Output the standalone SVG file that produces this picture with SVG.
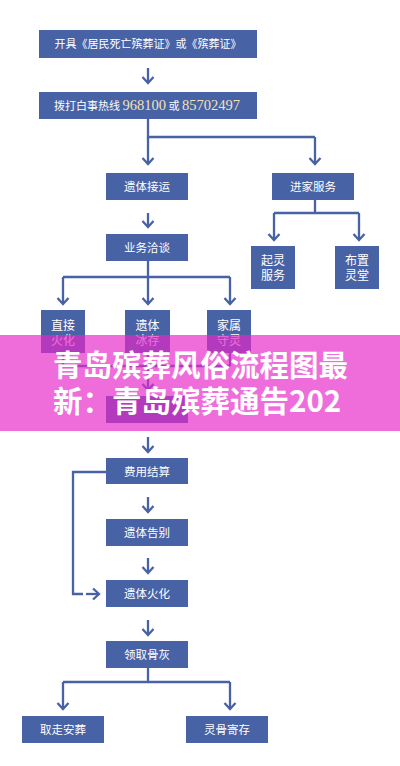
<svg xmlns="http://www.w3.org/2000/svg" width="400" height="766" viewBox="0 0 400 766">
<style>
.box{fill:#4862a6}
.t{font-family:"Noto Sans CJK SC","Noto Sans",sans-serif;font-size:11.5px;fill:#ffffff;text-anchor:middle}
.s{font-size:12px}
.num{font-family:"Liberation Serif",serif;font-size:14.5px;fill:#f2e4b4}
.ln{fill:none;stroke:#4862a6;stroke-width:2.3}
.ar{fill:none;stroke:#4862a6;stroke-width:2.3;marker-end:url(#ch)}
.ov{font-family:"Noto Sans CJK SC","Noto Sans",sans-serif;font-size:29.5px;font-weight:bold;fill:#ffffff}
</style>
<defs>
<marker id="ch" viewBox="-8 -8 10 16" markerWidth="10" markerHeight="16" refX="0" refY="0" orient="auto" markerUnits="userSpaceOnUse">
<path d="M-6,-5.5 L0,0 L-6,5.5" fill="none" stroke="#4862a6" stroke-width="2.3"/>
</marker>
</defs>
<rect width="400" height="766" fill="#ffffff"/>
<g id="connectors">
<path class="ar" d="M148,68 V83"/>
<path class="ln" d="M148,119 V137 H315"/>
<path class="ar" d="M148,137 V164"/>
<path class="ar" d="M315,137 V164"/>
<path class="ar" d="M148,213 V227"/>
<path class="ln" d="M315,200 V213 M274,213 H359"/>
<path class="ar" d="M274,213 V240"/>
<path class="ar" d="M359,213 V240"/>
<path class="ln" d="M148,261 V277 M63,277 H230"/>
<path class="ar" d="M63,277 V304"/>
<path class="ar" d="M148,277 V304"/>
<path class="ar" d="M230,277 V304"/>
<path class="ln" d="M63,353 V366 M148,353 V366 M230,353 V366 M63,366 H230"/>
<path class="ar" d="M148,366 V390"/>
<path class="ar" d="M148,437 V452"/>
<path class="ar" d="M148,497 V512"/>
<path class="ar" d="M148,558 V573"/>
<path class="ar" d="M148,620 V635"/>
<path class="ln" d="M106,472 H73 V594 H83"/>
<path class="ar" d="M86,594 H99"/>
<path class="ln" d="M148,668 V682 M63,682 H230"/>
<path class="ar" d="M63,682 V709"/>
<path class="ar" d="M230,682 V709"/>
</g>
<g id="n1"><rect class="box" x="39" y="30" width="218" height="28"/><text class="t" x="148" y="48.2" style="font-size:11px">开具《居民死亡殡葬证》或《殡葬证》</text></g>
<g id="n2"><rect class="box" x="39" y="92" width="218" height="27"/><text class="t" x="54" y="110" style="font-size:11px;text-anchor:start">拨打白事热线 <tspan class="num">968100</tspan> 或 <tspan class="num">85702497</tspan></text></g>
<g id="n3"><rect class="box" x="106" y="173" width="82" height="27"/><text class="t" x="147" y="191">遗体接运</text></g>
<g id="n4"><rect class="box" x="272" y="173" width="82" height="27"/><text class="t" x="313" y="191">进家服务</text></g>
<g id="n5"><rect class="box" x="106" y="234" width="82" height="27"/><text class="t" x="147" y="252">业务洽谈</text></g>
<g id="n6"><rect class="box" x="251" y="246" width="44" height="43"/><text class="t s" x="273" y="264.5">起灵</text><text class="t s" x="273" y="279.5">服务</text></g>
<g id="n7"><rect class="box" x="335" y="246" width="44" height="43"/><text class="t s" x="357" y="264.5">布置</text><text class="t s" x="357" y="279.5">灵堂</text></g>
<g id="n8"><rect class="box" x="41" y="310" width="44" height="43"/><text class="t s" x="63" y="329.5">直接</text><text class="t s" x="63" y="344.5">火化</text></g>
<g id="n9"><rect class="box" x="125" y="310" width="45" height="43"/><text class="t s" x="147.5" y="329.5">遗体</text><text class="t s" x="147.5" y="344.5">冰存</text></g>
<g id="n10"><rect class="box" x="207" y="310" width="44" height="43"/><text class="t s" x="229" y="329.5">家属</text><text class="t s" x="229" y="344.5">守灵</text></g>
<g id="n11"><rect class="box" x="106" y="396" width="82" height="27"/></g>
<g id="n12"><rect class="box" x="106" y="458" width="82" height="26"/><text class="t" x="147" y="475.5">费用结算</text></g>
<g id="n13"><rect class="box" x="106" y="519" width="82" height="27"/><text class="t" x="147" y="537">遗体告别</text></g>
<g id="n14"><rect class="box" x="106" y="580" width="82" height="27"/><text class="t" x="147" y="598">遗体火化</text></g>
<g id="n15"><rect class="box" x="106" y="641" width="82" height="27"/><text class="t" x="147" y="659">领取骨灰</text></g>
<g id="n16"><rect class="box" x="22" y="716" width="82" height="27"/><text class="t" x="63" y="734">取走安葬</text></g>
<g id="n17"><rect class="box" x="186" y="716" width="82" height="27"/><text class="t" x="227" y="734">灵骨寄存</text></g>
<g id="overlay">
<rect x="0" y="335" width="400" height="96" fill="rgb(232,40,200)" fill-opacity="0.68"/>
<text class="ov" x="53" y="376">青岛殡葬风俗流程图最</text>
<text class="ov" x="53" y="412">新：青岛殡葬通告202</text>
</g>
</svg>
